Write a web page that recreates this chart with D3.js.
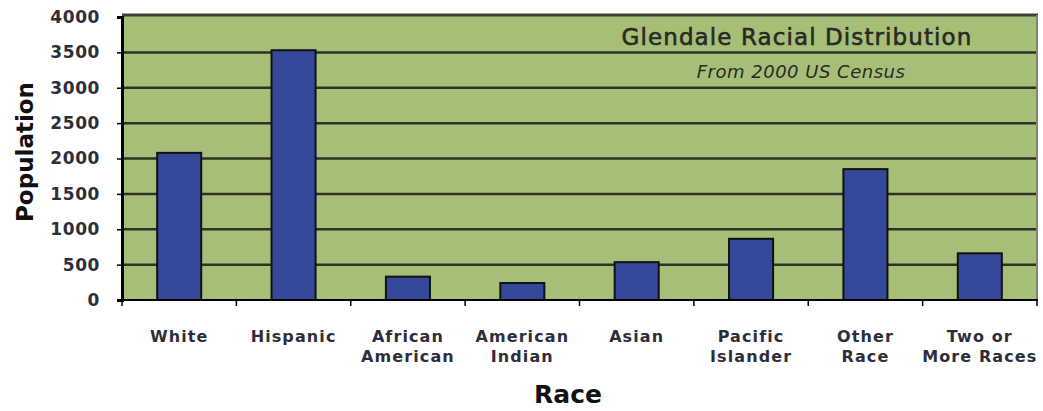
<!DOCTYPE html>
<html>
<head>
<meta charset="utf-8">
<script src="https://cdn.jsdelivr.net/npm/d3@7"></script>
<style>
  html, body { margin: 0; padding: 0; background: #ffffff; }
  svg { display: block; }
</style>
</head>
<body>
<svg id="chart" width="1043" height="411"></svg>
<script>
// ---- data ----
const categories = ["White", "Hispanic", "African American", "American Indian", "Asian", "Pacific Islander", "Other Race", "Two or More Races"];
const categoryLines = [["White"], ["Hispanic"], ["African", "American"], ["American", "Indian"], ["Asian"], ["Pacific", "Islander"], ["Other", "Race"], ["Two or", "More Races"]];
const population = [2080, 3530, 330, 240, 535, 865, 1850, 660];
const yTicks = [0, 500, 1000, 1500, 2000, 2500, 3000, 3500, 4000];
const titleText = "Glendale Racial Distribution";
const subtitleText = "From 2000 US Census";
const xAxisTitle = "Race";
const yAxisTitle = "Population";

// ---- layout ----
const svg = d3.select("#chart");
const m = { left: 122, right: 1037, top: 17, bottom: 300 };

const x = d3.scaleBand().domain(categories).range([m.left, m.right]).padding(0);
const y = d3.scaleLinear().domain([0, 4000]).range([m.bottom, m.top]);
const barW = x.bandwidth() * 0.385;

// plot background
svg.append("rect")
  .attr("x", m.left).attr("y", m.top - 2)
  .attr("width", m.right - m.left).attr("height", m.bottom - m.top + 2)
  .attr("fill", "#a6bf78");

// gridlines
svg.append("g").selectAll("line")
  .data(yTicks.filter(d => d > 0 && d < 4000))
  .join("line")
  .attr("x1", m.left).attr("x2", m.right)
  .attr("y1", d => y(d)).attr("y2", d => y(d))
  .attr("stroke", "#2c3324").attr("stroke-width", 2.5);

// top and right border
svg.append("line").attr("x1", m.left).attr("x2", m.right + 1)
  .attr("y1", m.top - 2).attr("y2", m.top - 2)
  .attr("stroke", "#3a4232").attr("stroke-width", 3);
svg.append("line").attr("x1", m.right).attr("x2", m.right)
  .attr("y1", m.top - 2).attr("y2", m.bottom)
  .attr("stroke", "#7c8a6c").attr("stroke-width", 2);

// bars
svg.append("g").selectAll("rect")
  .data(categories.map((c, i) => ({ c, v: population[i] })))
  .join("rect")
  .attr("x", d => x(d.c) + (x.bandwidth() - barW) / 2)
  .attr("y", d => y(d.v))
  .attr("width", barW)
  .attr("height", d => y(0) - y(d.v))
  .attr("fill", "#364899")
  .attr("stroke", "#111111")
  .attr("stroke-width", 2);

// y axis
const yAxis = d3.axisLeft(y).tickValues(yTicks).tickSize(5).tickPadding(17).tickFormat(d3.format("d"));
const gy = svg.append("g").attr("transform", `translate(${m.left},0)`).call(yAxis);
gy.select(".domain").attr("stroke", "#000").attr("stroke-width", 3);
gy.selectAll(".tick line").attr("stroke", "#000").attr("stroke-width", 1.5);
gy.selectAll(".tick text")
  .attr("fill", "#2e2e3a")
  .style("font-family", "'DejaVu Sans', sans-serif")
  .style("font-weight", "bold")
  .style("font-size", "17px")
  .style("letter-spacing", "0.6px");

// x axis
const bounds = categories.map(c => x(c)).concat([m.right]);
const gx = svg.append("g");
gx.append("line").attr("x1", m.left - 2).attr("x2", m.right + 1)
  .attr("y1", m.bottom).attr("y2", m.bottom)
  .attr("stroke", "#000").attr("stroke-width", 2);
gx.selectAll("line.tk").data(bounds).join("line").attr("class", "tk")
  .attr("x1", d => d).attr("x2", d => d)
  .attr("y1", m.bottom).attr("y2", m.bottom + 6)
  .attr("stroke", "#000").attr("stroke-width", 1.5);

const lab = svg.append("g").selectAll("text")
  .data(categories.map((c, i) => ({ c, lines: categoryLines[i] })))
  .join("text")
  .attr("x", d => x(d.c) + x.bandwidth() / 2)
  .attr("y", 342)
  .attr("text-anchor", "middle")
  .attr("fill", "#2e2e3a")
  .style("font-family", "'DejaVu Sans', sans-serif")
  .style("font-weight", "bold")
  .style("font-size", "16px")
  .style("letter-spacing", "1.1px");
lab.selectAll("tspan").data(d => d.lines.map(l => ({ l, x: x(d.c) + x.bandwidth() / 2 })))
  .join("tspan")
  .attr("x", d => d.x)
  .attr("dy", (d, i) => i === 0 ? 0 : 20)
  .text(d => d.l);

// axis titles
svg.append("text")
  .attr("transform", "translate(33,152) rotate(-90)")
  .attr("text-anchor", "middle")
  .attr("fill", "#111")
  .style("font-family", "'DejaVu Sans', sans-serif")
  .style("font-weight", "bold")
  .style("font-size", "23px")
  .text(yAxisTitle);

svg.append("text")
  .attr("x", 568).attr("y", 403)
  .attr("text-anchor", "middle")
  .attr("fill", "#111")
  .style("font-family", "'DejaVu Sans', sans-serif")
  .style("font-weight", "bold")
  .style("font-size", "25px")
  .text(xAxisTitle);

// chart title
svg.append("text")
  .attr("x", 797).attr("y", 45)
  .attr("text-anchor", "middle")
  .attr("fill", "#2a2a24")
  .attr("stroke", "#2a2a24")
  .attr("stroke-width", 0.6)
  .style("font-family", "'DejaVu Sans', sans-serif")
  .style("font-size", "23px")
  .style("font-weight", "normal")
  .style("letter-spacing", "1.1px")
  .text(titleText);

svg.append("text")
  .attr("x", 801).attr("y", 78)
  .attr("text-anchor", "middle")
  .attr("fill", "#2a2a24")
  .style("font-family", "'DejaVu Sans', sans-serif")
  .style("font-size", "18px")
  .style("font-style", "italic")
  .style("letter-spacing", "0.5px")
  .text(subtitleText);
</script>
</body>
</html>
